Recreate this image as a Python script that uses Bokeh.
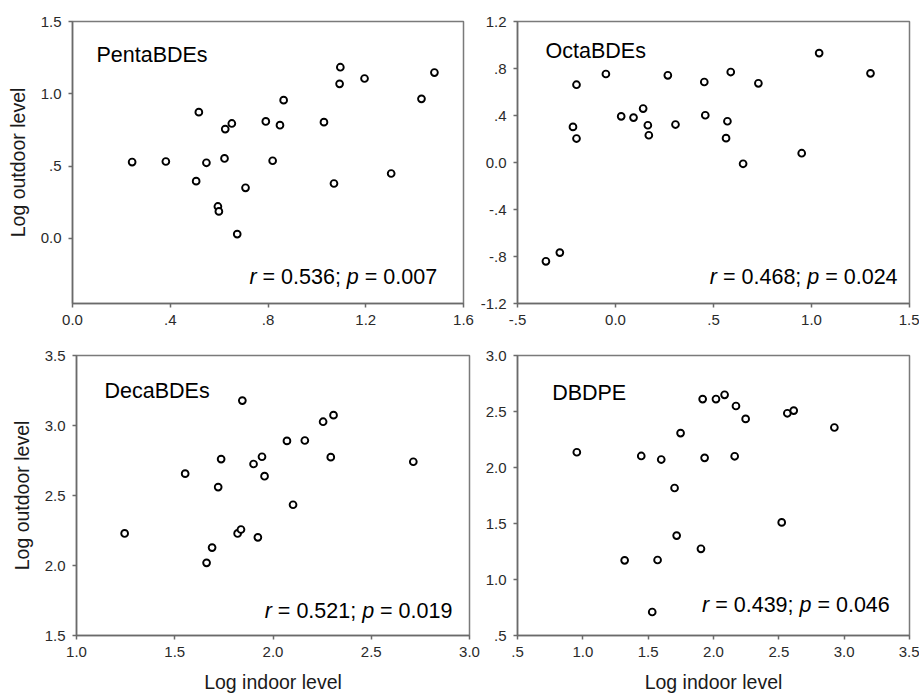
from bokeh.plotting import figure
from bokeh.models import Range1d, FixedTicker, Label
from bokeh.layouts import column, row
from bokeh.embed import file_html
from bokeh.resources import INLINE

# ---------------- data ----------------
penta_x = [0.244, 0.382, 0.506, 0.517, 0.548, 0.595, 0.599, 0.622, 0.625, 0.652, 0.674, 0.708,
           0.791, 0.819, 0.849, 0.864, 1.029, 1.070, 1.093, 1.096, 1.195, 1.304, 1.428, 1.481]
penta_y = [0.528, 0.532, 0.396, 0.873, 0.523, 0.221, 0.187, 0.553, 0.756, 0.795, 0.030, 0.350,
           0.809, 0.537, 0.783, 0.956, 0.804, 0.380, 1.069, 1.184, 1.106, 0.449, 0.965, 1.147]

octa_x = [-0.355, -0.284, -0.217, -0.199, -0.199, -0.049, 0.029, 0.092, 0.141, 0.165, 0.170, 0.267,
          0.306, 0.453, 0.458, 0.564, 0.571, 0.588, 0.651, 0.729, 0.950, 1.039, 1.301]
octa_y = [-0.841, -0.767, 0.303, 0.204, 0.662, 0.753, 0.393, 0.382, 0.459, 0.317, 0.232, 0.742,
          0.323, 0.685, 0.402, 0.207, 0.351, 0.770, -0.011, 0.674, 0.079, 0.931, 0.759]

deca_x = [1.245, 1.553, 1.662, 1.690, 1.721, 1.736, 1.820, 1.837, 1.844, 1.901, 1.923, 1.944,
          1.957, 2.071, 2.102, 2.162, 2.255, 2.294, 2.308, 2.714]
deca_y = [2.229, 2.656, 2.019, 2.128, 2.560, 2.760, 2.229, 2.257, 3.178, 2.725, 2.201, 2.777,
          2.638, 2.890, 2.434, 2.893, 3.027, 2.774, 3.074, 2.741]

dbdpe_x = [0.954, 1.320, 1.447, 1.531, 1.572, 1.600, 1.702, 1.718, 1.748, 1.904, 1.917, 1.932,
           2.019, 2.085, 2.162, 2.172, 2.246, 2.522, 2.565, 2.614, 2.925]
dbdpe_y = [2.136, 1.171, 2.103, 0.710, 1.174, 2.071, 1.817, 1.392, 2.307, 1.274, 2.611, 2.086,
           2.611, 2.649, 2.100, 2.549, 2.434, 1.510, 2.484, 2.508, 2.357]

panel_names = ["PentaBDEs", "OctaBDEs", "DecaBDEs", "DBDPE"]
r_values = ["0.536", "0.468", "0.521", "0.439"]
p_values = ["0.007", "0.024", "0.019", "0.046"]

penta_xticks = [0.0, 0.4, 0.8, 1.2, 1.6]
penta_xlabels = ["0.0", ".4", ".8", "1.2", "1.6"]
penta_yticks = [0.0, 0.5, 1.0, 1.5]
penta_ylabels = ["0.0", ".5", "1.0", "1.5"]

octa_xticks = [-0.5, 0.0, 0.5, 1.0, 1.5]
octa_xlabels = ["-.5", "0.0", ".5", "1.0", "1.5"]
octa_yticks = [-1.2, -0.8, -0.4, 0.0, 0.4, 0.8, 1.2]
octa_ylabels = ["-1.2", "-.8", "-.4", "0.0", ".4", ".8", "1.2"]

deca_xticks = [1.0, 1.5, 2.0, 2.5, 3.0]
deca_xlabels = ["1.0", "1.5", "2.0", "2.5", "3.0"]
deca_yticks = [1.5, 2.0, 2.5, 3.0, 3.5]
deca_ylabels = ["1.5", "2.0", "2.5", "3.0", "3.5"]

dbdpe_xticks = [0.5, 1.0, 1.5, 2.0, 2.5, 3.0, 3.5]
dbdpe_xlabels = [".5", "1.0", "1.5", "2.0", "2.5", "3.0", "3.5"]
dbdpe_yticks = [0.5, 1.0, 1.5, 2.0, 2.5, 3.0]
dbdpe_ylabels = [".5", "1.0", "1.5", "2.0", "2.5", "3.0"]

x_title = "Log indoor level"
y_title = "Log outdoor level"

FONT = "Liberation Sans"
AXIS_COL = "#6a6a6a"
TICK_TEXT = "#2a2a2a"

# Arial/Liberation advance widths (per 1000 em) for positioning the mixed-style stat text
ADV = {"r": 333, " ": 278, "=": 584, ".": 278, ";": 278, "p": 556}
def adv(s):
    return sum(ADV.get(c, 556) for c in s)


def make_panel(xs, ys, xr, yr, xt, xl, yt, yl, width, height, bl, br, bt, bb,
               name, name_pos, rv, pv, stat_pos, xlabel=None, ylabel=None):
    p = figure(width=width, height=height, output_backend="svg", toolbar_location=None,
               x_range=Range1d(*xr), y_range=Range1d(*yr),
               min_border_left=bl, min_border_right=br, min_border_top=bt, min_border_bottom=bb)
    p.xgrid.visible = False
    p.ygrid.visible = False
    p.outline_line_color = "#7a7a7a"
    p.outline_line_width = 1.5
    p.background_fill_color = "white"
    p.border_fill_color = "white"

    for ax, ticks, labels in ((p.xaxis[0], xt, xl), (p.yaxis[0], yt, yl)):
        ax.ticker = FixedTicker(ticks=ticks)
        ax.major_label_overrides = {t: l for t, l in zip(ticks, labels)}
        ax.minor_tick_line_color = None
        ax.major_tick_in = 0
        ax.major_tick_out = 4
        ax.major_tick_line_color = AXIS_COL
        ax.major_tick_line_width = 1.5
        ax.axis_line_color = AXIS_COL
        ax.axis_line_width = 1.5
        ax.major_label_text_font = FONT
        ax.major_label_text_font_size = "15px"
        ax.major_label_text_color = TICK_TEXT
        ax.major_label_standoff = 7
        ax.axis_label_text_font = FONT
        ax.axis_label_text_font_size = "19.5px"
        ax.axis_label_text_font_style = "normal"
        ax.axis_label_text_color = "#1a1a1a"
    if xlabel:
        p.xaxis.axis_label = xlabel
        p.xaxis.axis_label_standoff = 11
    if ylabel:
        p.yaxis.axis_label = ylabel
        p.yaxis.axis_label_standoff = 9

    p.scatter(xs, ys, marker="circle", size=6.8, fill_color="white",
              line_color="black", line_width=1.9)

    p.add_layout(Label(x=name_pos[0], y=name_pos[1], text=name, text_font=FONT,
                       text_font_size="21.5px", text_color="black",
                       text_align="left", text_baseline="alphabetic"))

    fs = 21.5
    pieces = [("r", "italic"), ("= " + rv + ";", "normal"), ("p", "italic"), ("= " + pv, "normal")]
    total = adv("r = " + rv + "; p = " + pv)
    starts = [0, adv("r "), adv("r = " + rv + "; "), adv("r = " + rv + "; p ")]
    for (txt, style), st in zip(pieces, starts):
        p.add_layout(Label(x=stat_pos[0], y=stat_pos[1], text=txt, text_font=FONT,
                           text_font_size=f"{fs}px", text_font_style=style, text_color="black",
                           x_offset=(st - total) * fs / 1000.0,
                           text_align="left", text_baseline="alphabetic"))
    return p


pa = make_panel(penta_x, penta_y, (0.0, 1.6), (-0.45, 1.5), penta_xticks, penta_xlabels,
                penta_yticks, penta_ylabels, 475, 334, 72, 12, 21, 31,
                panel_names[0], (0.098, 1.267), r_values[0], p_values[0], (1.492, -0.267),
                ylabel=y_title)
pb = make_panel(octa_x, octa_y, (-0.5, 1.5), (-1.2, 1.2), octa_xticks, octa_xlabels,
                octa_yticks, octa_ylabels, 444, 334, 42, 10, 21, 31,
                panel_names[1], (-0.357, 0.947), r_values[1], p_values[1], (1.439, -0.976))
pc = make_panel(deca_x, deca_y, (1.0, 3.0), (1.5, 3.5), deca_xticks, deca_xlabels,
                deca_yticks, deca_ylabels, 480, 361, 76, 11, 21, 58,
                panel_names[2], (1.1425, 3.247), r_values[2], p_values[2], (2.913, 1.677),
                xlabel=x_title, ylabel=y_title)
pd_ = make_panel(dbdpe_x, dbdpe_y, (0.5, 3.5), (0.5, 3.0), dbdpe_xticks, dbdpe_xlabels,
                 dbdpe_yticks, dbdpe_ylabels, 439, 361, 37, 10, 21, 58,
                 panel_names[3], (0.765, 2.668), r_values[3], p_values[3], (3.349, 0.775),
                 xlabel=x_title)

layout = column(row(pa, pb), row(pc, pd_))

open("out.html", "w").write(file_html(layout, INLINE))
